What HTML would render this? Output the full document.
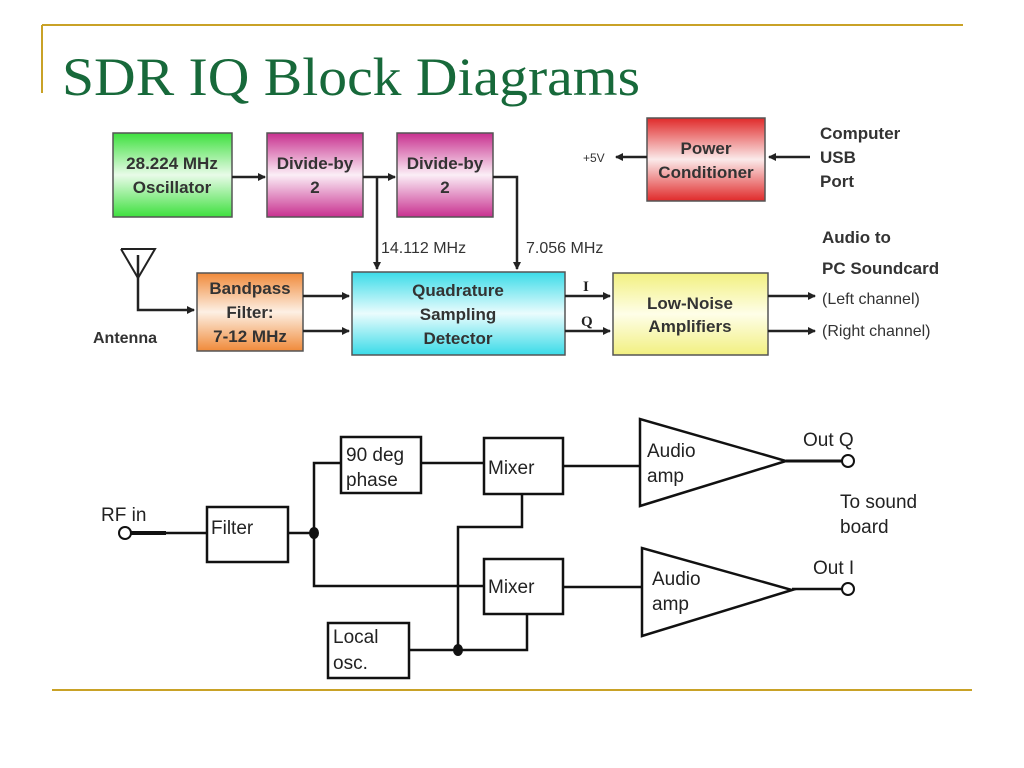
<!DOCTYPE html>
<html><head><meta charset="utf-8"><style>
html,body{margin:0;padding:0;background:#fff;}
svg{display:block;}
.s{font-family:"Liberation Sans",sans-serif;}
</style></head><body>
<svg width="1024" height="768" viewBox="0 0 1024 768" xmlns="http://www.w3.org/2000/svg">
<defs>
<linearGradient id="g" x1="0" y1="0" x2="0" y2="1"><stop offset="0" stop-color="#3ee03e"/><stop offset="0.5" stop-color="#e8fbe8"/><stop offset="1" stop-color="#3ee03e"/></linearGradient>
<linearGradient id="m" x1="0" y1="0" x2="0" y2="1"><stop offset="0" stop-color="#c8308f"/><stop offset="0.5" stop-color="#fbeef6"/><stop offset="1" stop-color="#c8308f"/></linearGradient>
<linearGradient id="r" x1="0" y1="0" x2="0" y2="1"><stop offset="0" stop-color="#e02a2a"/><stop offset="0.5" stop-color="#fbeaea"/><stop offset="1" stop-color="#e02a2a"/></linearGradient>
<linearGradient id="o" x1="0" y1="0" x2="0" y2="1"><stop offset="0" stop-color="#f08a3a"/><stop offset="0.5" stop-color="#fdf0e4"/><stop offset="1" stop-color="#f08a3a"/></linearGradient>
<linearGradient id="c" x1="0" y1="0" x2="0" y2="1"><stop offset="0" stop-color="#3adbe8"/><stop offset="0.5" stop-color="#eafcfd"/><stop offset="1" stop-color="#3adbe8"/></linearGradient>
<linearGradient id="y" x1="0" y1="0" x2="0" y2="1"><stop offset="0" stop-color="#f2f080"/><stop offset="0.5" stop-color="#fefee8"/><stop offset="1" stop-color="#f2f080"/></linearGradient>
<marker id="a" markerWidth="8" markerHeight="8" refX="7" refY="4" orient="auto" markerUnits="userSpaceOnUse"><path d="M0,0 L8,4 L0,8 z" fill="#222"/></marker>
</defs>
<line x1="42" y1="25" x2="963" y2="25" stroke="#c9a227" stroke-width="2"/>
<line x1="42" y1="25" x2="42" y2="93" stroke="#c9a227" stroke-width="2"/>
<line x1="52" y1="690" x2="972" y2="690" stroke="#c9a227" stroke-width="2"/>
<text x="62" y="95" font-family="Liberation Serif,serif" font-size="54" fill="#17693a" textLength="578" lengthAdjust="spacingAndGlyphs">SDR IQ Block Diagrams</text>

<g class="s" font-weight="bold" font-size="16" fill="#333" text-anchor="middle" stroke="#555" stroke-width="1.5">
<rect x="113" y="133" width="119" height="84" fill="url(#g)"/>
<rect x="267" y="133" width="96" height="84" fill="url(#m)"/>
<rect x="397" y="133" width="96" height="84" fill="url(#m)"/>
<rect x="647" y="118" width="118" height="83" fill="url(#r)"/>
<rect x="197" y="273" width="106" height="78" fill="url(#o)"/>
<rect x="352" y="272" width="213" height="83" fill="url(#c)"/>
<rect x="613" y="273" width="155" height="82" fill="url(#y)"/>
</g>
<g class="s" font-weight="bold" font-size="17" fill="#333" text-anchor="middle">
<text x="172" y="169">28.224 MHz</text><text x="172" y="193">Oscillator</text>
<text x="315" y="169">Divide-by</text><text x="315" y="193">2</text>
<text x="445" y="169">Divide-by</text><text x="445" y="193">2</text>
<text x="706" y="154">Power</text><text x="706" y="178">Conditioner</text>
<text x="250" y="294">Bandpass</text><text x="250" y="318">Filter:</text><text x="250" y="342">7-12 MHz</text>
<text x="458" y="296">Quadrature</text><text x="458" y="320">Sampling</text><text x="458" y="344">Detector</text>
<text x="690" y="309">Low-Noise</text><text x="690" y="332">Amplifiers</text>
</g>
<g stroke="#222" stroke-width="2.5" fill="none">
<line x1="232" y1="177" x2="265" y2="177" marker-end="url(#a)"/>
<line x1="363" y1="177" x2="395" y2="177" marker-end="url(#a)"/>
<line x1="377" y1="177" x2="377" y2="269" marker-end="url(#a)"/>
<polyline points="493,177 517,177 517,269" marker-end="url(#a)"/>
<line x1="647" y1="157" x2="616" y2="157" marker-end="url(#a)"/>
<line x1="810" y1="157" x2="769" y2="157" marker-end="url(#a)"/>
<polyline points="138,255 138,310 194,310" marker-end="url(#a)"/>
<line x1="303" y1="296" x2="349" y2="296" marker-end="url(#a)"/>
<line x1="303" y1="331" x2="349" y2="331" marker-end="url(#a)"/>
<line x1="565" y1="296" x2="610" y2="296" marker-end="url(#a)"/>
<line x1="565" y1="331" x2="610" y2="331" marker-end="url(#a)"/>
<line x1="768" y1="296" x2="815" y2="296" marker-end="url(#a)"/>
<line x1="768" y1="331" x2="815" y2="331" marker-end="url(#a)"/>
<polyline points="121,249 155,249 138,278 121,249" stroke-width="2"/>
</g>
<g class="s" font-size="16" fill="#333">
<text x="381" y="253">14.112 MHz</text>
<text x="526" y="253">7.056 MHz</text>
<text x="583" y="162" font-size="12">+5V</text>
<text x="820" y="139" font-weight="bold" font-size="17">Computer</text>
<text x="820" y="163" font-weight="bold" font-size="17">USB</text>
<text x="820" y="187" font-weight="bold" font-size="17">Port</text>
<text x="822" y="243" font-weight="bold" font-size="17">Audio to</text>
<text x="822" y="274" font-weight="bold" font-size="17">PC Soundcard</text>
<text x="822" y="304">(Left channel)</text>
<text x="822" y="336">(Right channel)</text>
<text x="93" y="343" font-weight="bold">Antenna</text>
</g>
<text x="583" y="291" font-family="Liberation Serif,serif" font-weight="bold" font-size="15" fill="#222">I</text>
<text x="581" y="326" font-family="Liberation Serif,serif" font-weight="bold" font-size="15" fill="#222">Q</text>

<g stroke="#111" stroke-width="2.5" fill="none">
<rect x="207" y="507" width="81" height="55"/>
<rect x="341" y="437" width="80" height="56"/>
<rect x="484" y="438" width="79" height="56"/>
<rect x="484" y="559" width="79" height="55"/>
<rect x="328" y="623" width="81" height="55"/>
<polygon points="640,419 640,506 786,461"/>
<polygon points="642,548 642,636 792,590"/>
<line x1="131" y1="533" x2="207" y2="533"/>
<line x1="131" y1="533" x2="166" y2="533" stroke-width="4"/>
<line x1="288" y1="533" x2="314" y2="533"/>
<polyline points="341,463 314,463 314,586 484,586"/>
<line x1="421" y1="463" x2="484" y2="463"/>
<line x1="563" y1="466" x2="640" y2="466"/>
<line x1="563" y1="587" x2="642" y2="587"/>
<polyline points="522,494 522,527 458,527 458,650"/>
<polyline points="409,650 527,650 527,614"/>
<line x1="786" y1="461" x2="842" y2="461" stroke-width="3"/>
<line x1="792" y1="589" x2="842" y2="589"/>
<circle cx="125" cy="533" r="6" stroke-width="2"/>
<circle cx="848" cy="461" r="6" stroke-width="2"/>
<circle cx="848" cy="589" r="6" stroke-width="2"/>
</g>
<ellipse cx="314" cy="533" rx="5" ry="6" fill="#111"/>
<ellipse cx="458" cy="650" rx="5" ry="6" fill="#111"/>
<g class="s" font-size="19" fill="#222">
<text x="101" y="521">RF in</text>
<text x="211" y="534">Filter</text>
<text x="346" y="461">90 deg</text>
<text x="346" y="486">phase</text>
<text x="488" y="474">Mixer</text>
<text x="488" y="593">Mixer</text>
<text x="333" y="643">Local</text>
<text x="333" y="669">osc.</text>
<text x="647" y="457">Audio</text>
<text x="647" y="482">amp</text>
<text x="652" y="585">Audio</text>
<text x="652" y="610">amp</text>
<text x="803" y="446">Out Q</text>
<text x="813" y="574">Out I</text>
<text x="840" y="508">To sound</text>
<text x="840" y="533">board</text>
</g>
</svg>
</body></html>
